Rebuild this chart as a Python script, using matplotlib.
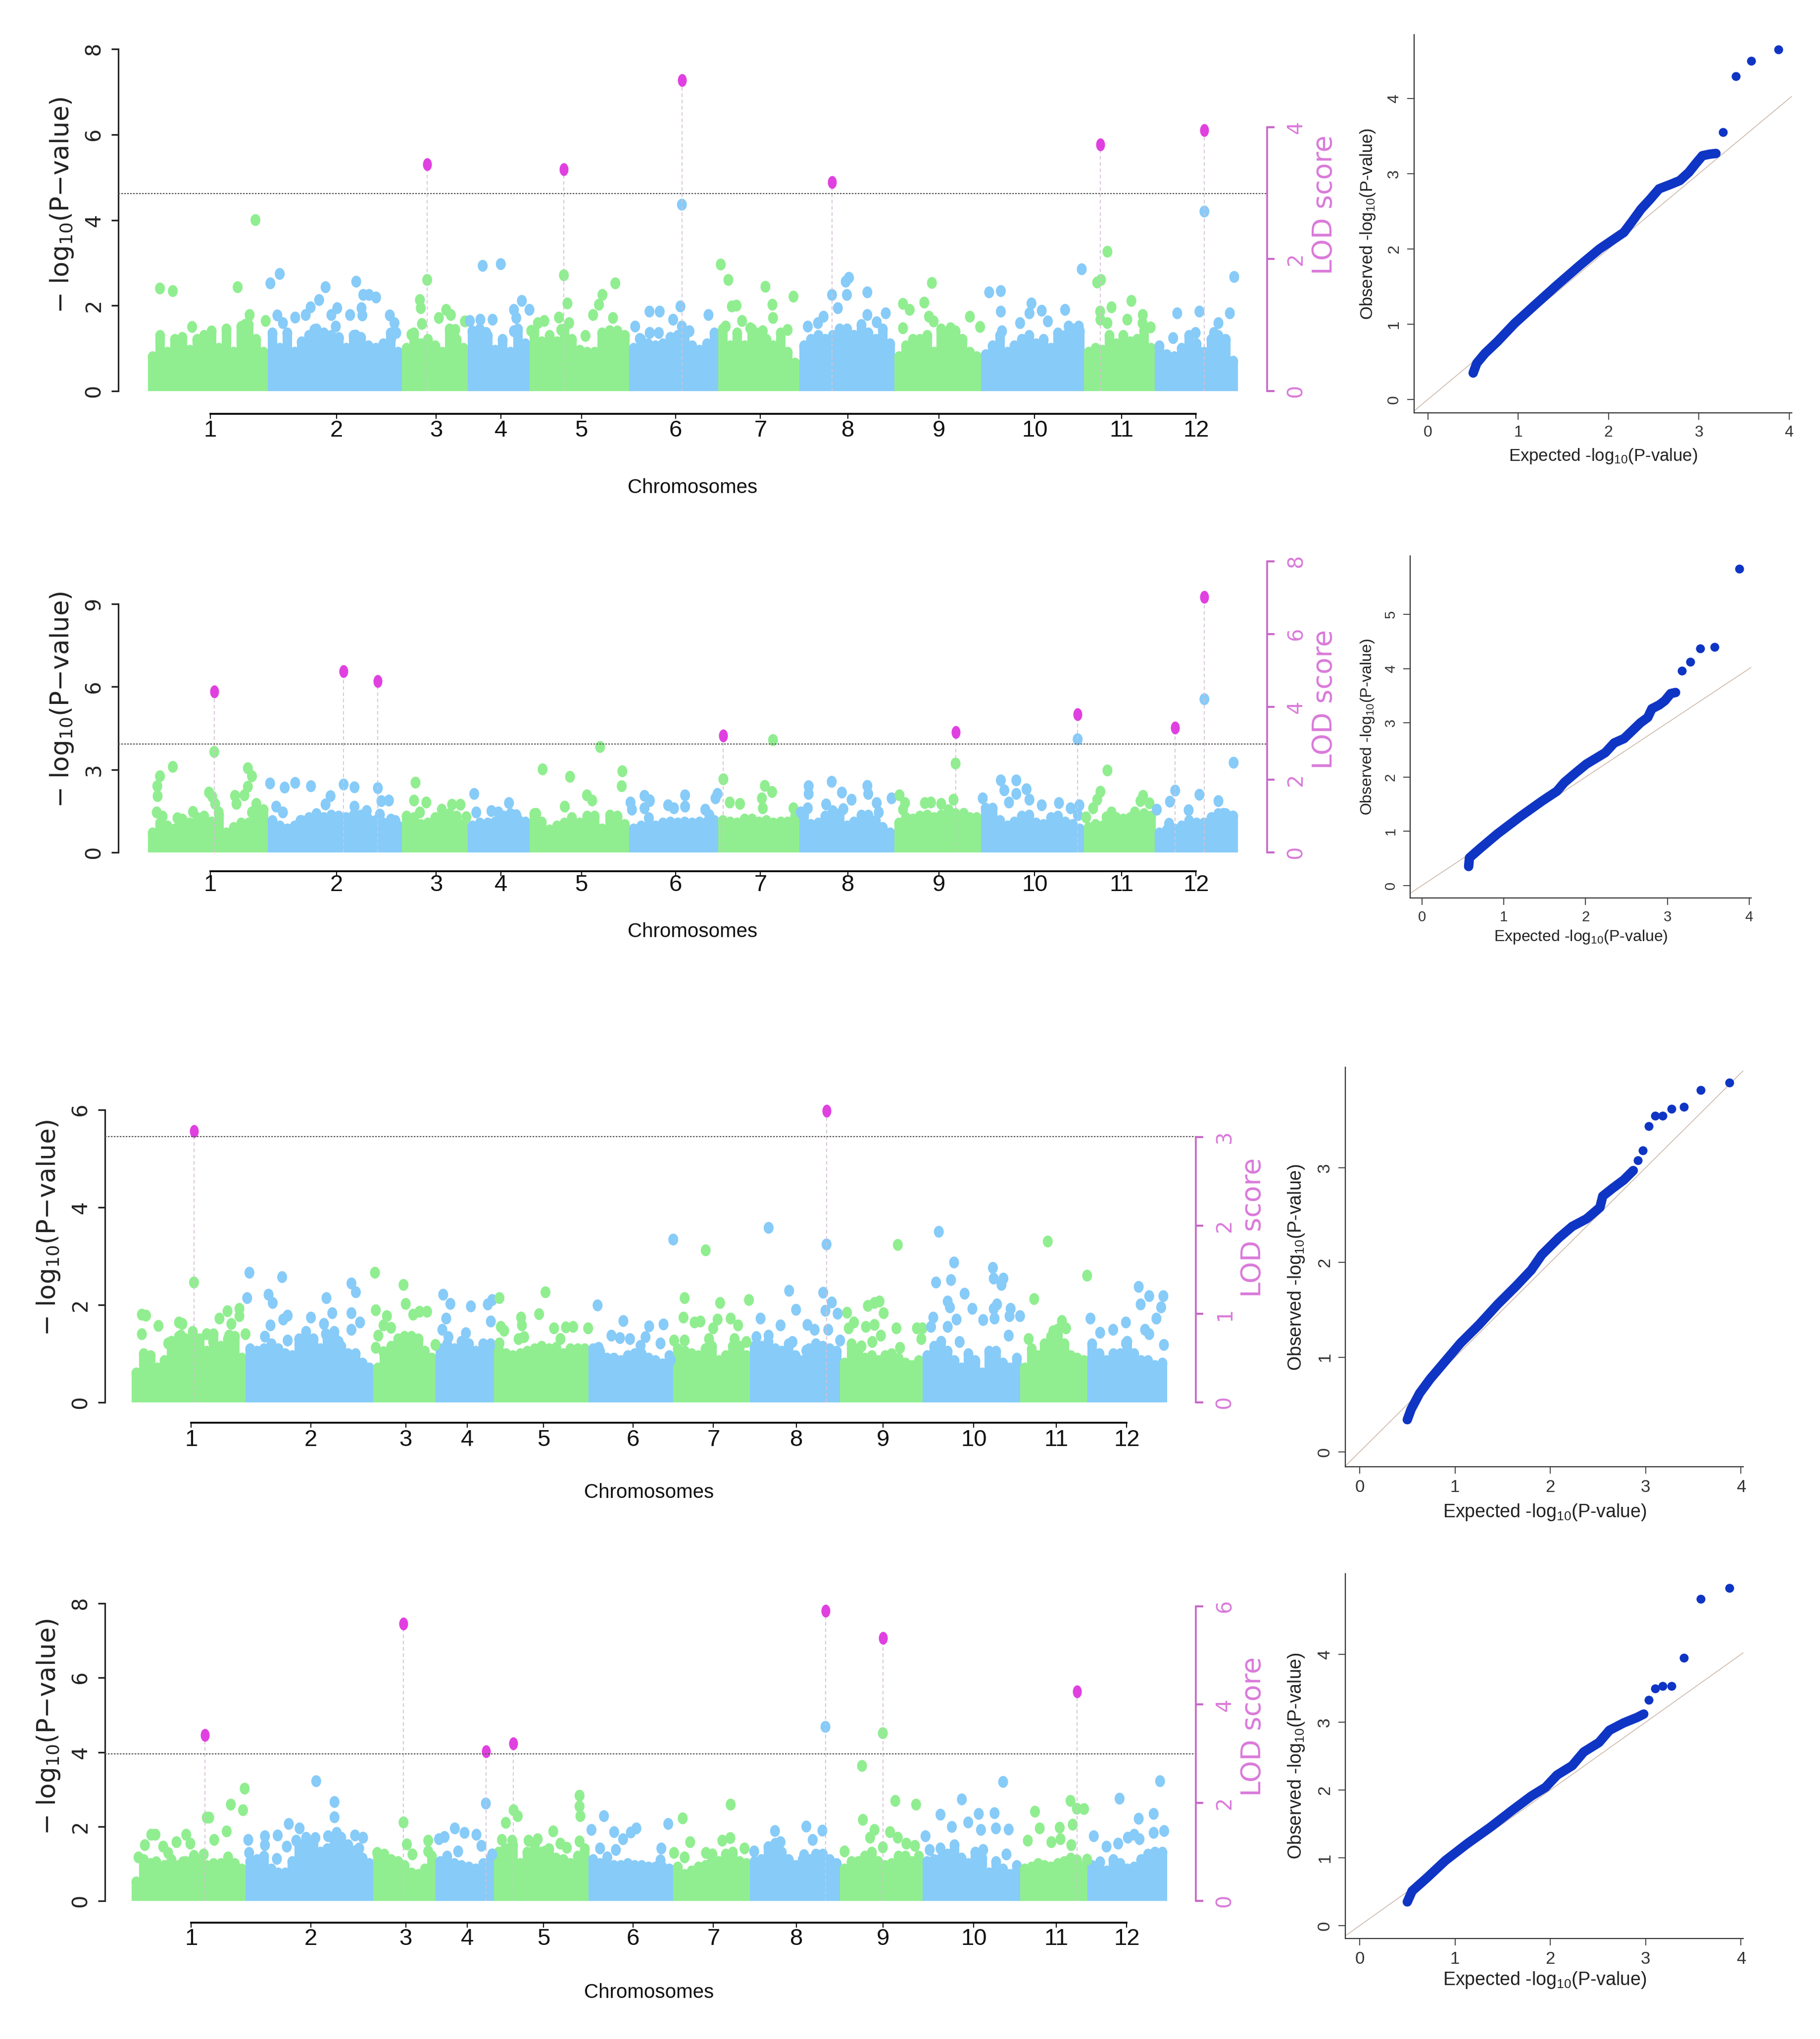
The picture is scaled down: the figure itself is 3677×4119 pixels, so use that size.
import numpy as np
import matplotlib
matplotlib.use('Agg')
import matplotlib.pyplot as plt
from matplotlib.markers import MarkerStyle
from matplotlib.transforms import Affine2D

# ------------------------------------------------------------------------------
# chromosomes (cumulative position, Mb)
# ------------------------------------------------------------------------------
chrom_labels = ['1', '2', '3', '4', '5', '6', '7', '8', '9', '10', '11', '12']
chrom_edges = [0, 41, 87, 109.5, 130.7, 164.7, 195.3, 223, 255.5, 285.2, 320.5, 344.8, 373]
chrom_ticks = [21.3, 64.5, 98.7, 120.8, 148.4, 180.7, 209.7, 239.7, 270.8, 303.6, 333.4, 358.8]

# ------------------------------------------------------------------------------
# panel 1
# ------------------------------------------------------------------------------
p1_peak_x = [95.6, 142.4, 182.8, 234.2, 326.1, 361.7]
p1_peak_y = [5.30, 5.19, 7.27, 4.88, 5.77, 6.10]
p1_x = [4.1, 8.5, 30.7, 36.8, 40.3, 34.8, 33.3, 15.1, 41.9, 45.1, 44.3, 46.2, 50.4, 54, 55.7, 58.6, 60.8, 62.8, 64.8,
        64.3, 69.2, 71.3, 73.1, 73.4, 73.7, 75.7, 78.1, 82.8, 84.4, 85, 83.2, 65.4, 71.1, 57, 93.1, 93.4, 93.8, 95.6,
        90.2, 99.6, 102.1, 103.7, 105.2, 108.5, 110.2, 113.8, 114.6, 120.8, 118, 115.8, 125.3, 126.1, 128, 130.6,
        125.3, 131.2, 133.5, 135.7, 140.7, 142.4, 143.6, 144.2, 141.5, 149.8, 152.4, 154.4, 155.6, 160, 159.2, 158.1,
        166.8, 168.4, 171.8, 171.7, 175.2, 174.9, 171.8, 179.8, 182.3, 182.8, 182.8, 185.4, 191.9, 196.1, 198.7,
        199.9, 201.5, 203.4, 197.8, 206.2, 210.5, 211.4, 213.8, 214, 219, 221, 225.9, 229.4, 231.3, 234.2, 236.2,
        238.9, 240, 239.3, 246.3, 246.3, 249.5, 252.6, 258.5, 260.8, 265.8, 268.4, 267.4, 269, 258.5, 274.8, 281.4,
        284.9, 288, 292, 292, 292.4, 298.6, 302.5, 301.8, 306, 308.1, 314, 315.2, 318.7, 319.7, 325, 326.3, 328.5,
        326, 326.1, 328.5, 329.9, 336.7, 335.3, 340.6, 343.3, 340.5, 352.4, 360, 361.7, 371.9, 370.4, 366.5, 365,
        358.7, 351]
p1_y = [2.40, 2.34, 2.43, 4.0, 1.64, 1.78, 1.55, 1.50, 2.52, 2.74, 1.77, 1.59, 1.72, 1.78, 1.96, 2.13, 2.43, 1.78, 1.94,
        1.51, 1.78, 2.56, 1.94, 1.77, 2.25, 2.25, 2.19, 1.77, 1.59, 1.36, 1.2, 1.24, 1.30, 1.43, 2.13, 1.94, 1.57, 2.60,
        1.32, 1.71, 1.90, 1.78, 1.43, 1.63, 1.64, 1.67, 2.93, 2.97, 1.67, 1.36, 1.90, 1.71, 2.11, 1.90,
        1.40, 1.41, 1.59, 1.64, 1.72, 2.71, 2.05, 1.59, 1.43, 1.29, 1.78, 2.02, 2.25, 2.52, 1.71, 1.4,
        1.51, 1.22, 1.36, 1.86, 1.86, 1.36, 1.36, 1.67, 1.98, 4.36, 1.51, 1.40, 1.78, 2.96, 2.60,
        1.98, 2.0, 1.64, 1.51, 1.47, 1.40, 2.44, 2.02, 1.71, 1.43, 2.21, 1.51, 1.59, 1.74, 2.25, 1.94,
        2.56, 2.65, 2.25, 2.31, 1.78, 1.61, 1.82, 2.04, 1.90, 2.07, 2.53, 1.74, 1.63, 1.47, 1.47, 1.74,
        1.50, 2.31, 2.34, 1.86, 1.40, 1.59, 2.05, 1.82, 1.88, 1.63, 1.90, 1.51, 1.51, 2.85, 2.54, 2.60, 3.26,
        1.86, 1.67, 1.59, 1.96, 2.11, 1.67, 1.78, 1.49, 1.59, 1.82, 1.86, 4.2, 2.67, 1.82, 1.59, 1.36,
        1.36, 1.24]
p1_tops = [[.8, 1.3, .9, 1.2, 1.25, .95, 1.2, 1.3, 1.4, 1.0, 1.45, .9, 1.5, 1.55, 1.2, .9],
           [1.35, 1.0, 1.35, .9, 1.15, 1.3, 1.45, 1.35, 1.3, 1.2, 1.0, 1.3, 1.25, 1.05, 1.0, 1.1, 1.35, .9],
           [1.0, 1.35, 1.1, 1.2, 1.05, .9, 1.45, 1.2, 1.0],
           [1.4, 1.45, 1.3, .95, 1.2, .9, 1.45, 1.1],
           [1.4, 1.15, 1.3, 1.15, 1.45, 1.2, .95, .9, .9, 1.35, 1.4, 1.4, 1.3],
           [1.0, 1.2, 1.1, 1.05, 1.1, 1.25, 1.3, 1.4, 1.05, .95, 1.1, 1.35],
           [1.45, 1.05, 1.35, 1.05, 1.45, 1.35, 1.2, 1.05, 1.35, .9, .65],
           [1.05, 1.2, 1.3, 1.2, 1.3, 1.45, 1.45, 1.3, 1.55, 1.35, 1.2, 1.45, 1.1],
           [.8, 1.05, 1.2, 1.2, 1.3, .9, 1.45, 1.3, 1.4, 1.2, .9, .8],
           [.85, 1.05, 1.3, .9, 1.05, 1.2, 1.3, 1.1, 1.2, 1.0, 1.35, 1.3, 1.45, 1.4],
           [.9, 1.0, .95, 1.3, 1.1, 1.3, 1.15, 1.2, 1.4, 1.0],
           [1.05, .85, .8, 1.0, 1.3, 1.1, .9, 1.2, 1.3, 1.2, .7]]

# ------------------------------------------------------------------------------
# panel 2
# ------------------------------------------------------------------------------
p2_peak_x = [22.7, 67, 78.7, 197, 276.5, 318.3, 351.7, 361.7]
p2_peak_y = [5.82, 6.56, 6.21, 4.23, 4.35, 5.01, 4.52, 9.25]
p2_x = [3.3, 3.2, 4.1, 8.5, 3, 5, 10.1, 15.4, 17, 20.9, 22, 23, 24.2, 22.7, 29.8, 30.3, 33, 34.2, 34.2, 35.6, 37.1,
        35.6, 41.8, 43.9, 46.8, 50.4, 55.8, 46.2, 52.2, 60.8, 62.5, 67, 70.7, 70.7, 74.9, 78.7, 79.9, 82.5, 79.4,
        83.2, 84.7, 91.6, 91.1, 95.3, 93.1, 100.6, 104.1, 107, 109, 111.7, 112.4, 117.6, 120, 121.8, 123.6, 126.1,
        132.9, 135.1, 144.5, 142.7, 150.3, 152.1, 154.8, 162.4, 162.2, 165.2, 165.7, 170, 171.8, 170, 171.5, 178.1,
        180.1, 183.9, 183.9, 171.8, 190.8, 192.2, 195, 194.3, 197, 199.2, 202.7, 211.2, 213.7, 210.2, 210.5, 214,
        221, 223.5, 226.2, 226.2, 225.9, 234.1, 237.6, 240.9, 232.2, 238.1, 246.3, 246.6, 249.5, 250.2, 254.6, 257.3,
        259.2, 258.5, 266, 268.1, 271.6, 275.8, 276.5, 279.3, 285.8, 292, 293.2, 297.3, 297.3, 294.8, 300.8, 301.8,
        306, 311.9, 315.9, 318.9, 318.3, 318.4, 326.1, 328.5, 325, 323.6, 321.2, 328.2, 329.9, 337.9, 340.7, 342.9,
        339.8, 345.4, 349.9, 351.7, 349.6, 356.3, 360, 361.7, 366.5, 371.7, 368.2, 371.4]
p2_y = [2.04, 2.40, 2.76, 3.10, 1.45, 1.30, 1.24, 1.47, 1.24, 2.17, 2.02, 1.76, 1.45, 3.64, 2.05, 1.76, 2.07, 2.38, 3.05, 2.76, 1.76,
        1.45, 2.50, 1.66, 2.35, 2.52, 2.40, 1.45, 1.14, 1.74, 2.04, 2.46, 2.36, 1.66, 1.50, 2.33, 1.86, 1.88, 1.37,
        1.19, 1.14, 2.53, 1.88, 1.81, 1.45, 1.55, 1.73, 1.73, 1.28, 2.12, 1.45, 1.5, 1.45, 1.3, 1.79, 1.35,
        1.4, 3.01, 2.74, 1.66, 2.07, 1.88, 3.82, 2.94, 2.40, 1.81, 1.55, 2.05, 1.89, 1.6, 1.24, 1.71,
        1.6, 2.07, 1.66, 1.86, 1.55, 1.35, 2.12, 1.96, 2.65, 1.81, 1.76, 2.41, 2.19, 1.96, 1.6, 4.07,
        1.6, 1.45, 2.40, 2.12, 1.6, 2.56, 2.17, 1.91, 1.74, 1.57, 2.41, 2.12, 1.79, 1.45, 1.96, 2.07,
        1.79, 1.55, 1.79, 1.81, 1.76, 1.91, 3.22, 1.4, 1.96, 2.61, 2.25, 2.61, 2.12, 1.81, 2.29, 1.91,
        1.71, 1.79, 1.6, 1.71, 4.10, 1.35, 2.2, 2.97, 1.91, 1.6, 1.27, 1.27, 1.45, 1.45, 2.05, 1.78,
        1.86, 1.55, 1.84, 2.24, 1.04, 1.53, 2.09, 5.55, 1.86, 3.25, 1.4, 1.3]
p2_tops = [[.7, 1.05, .95, .85, 1.2, 1.05, .95, 1.3, 1.1, 1.35, .7, .9, 1.05, 1.05, 1.5, 1.55],
           [1.15, .95, .85, .95, 1.15, 1.25, 1.4, 1.25, 1.35, 1.3, 1.25, 1.35, 1.35, 1.2, 1.15, 1.05, 1.0, .95],
           [1.3, 1.25, 1.0, 1.05, 1.25, 1.4, 1.4, 1.3, 1.0],
           [.95, 1.05, 1.05, 1.1, 1.05, 1.4, 1.2, 1.1],
           [1.4, 1.1, .8, .95, 1.05, 1.25, 1.05, 1.3, 1.3, .85, 1.35, 1.3, 1.0],
           [.85, .95, .95, .95, 1.05, 1.1, 1.05, 1.1, 1.05, 1.1, 1.1, 1.15],
           [1.15, 1.1, 1.05, 1.2, 1.2, 1.1, 1.15, 1.05, 1.1, 1.1, 1.3],
           [1.35, 1.0, 1.05, 1.3, 1.5, 1.4, .95, 1.1, 1.35, 1.35, 1.15, .9, .7],
           [1.05, 1.25, 1.2, 1.3, 1.35, 1.25, 1.35, 1.55, 1.4, 1.2, 1.25, 1.25],
           [1.6, 1.6, 1.15, .95, 1.1, 1.3, 1.35, 1.05, 1.0, 1.25, 1.3, 1.1, 1.0, .85],
           [.9, 1.0, .95, 1.15, 1.25, 1.2, 1.25, 1.25, 1.4, 1.3],
           [.7, .8, .85, .95, 1.15, 1.05, 1.05, 1.25, 1.4, 1.4, 1.3]]

# ------------------------------------------------------------------------------
# panel 3
# ------------------------------------------------------------------------------
p3_peak_x = [22.3, 250.5]
p3_peak_y = [5.56, 5.98]
p3_x = [22.3, 250.5, 3.5, 5, 3.5, 9.5, 16.9, 18.1, 17.6, 13, 22, 26.9, 31.5, 34.4, 38.7, 38.7, 40.9, 35.8, 35, 29.2, 33,
        41.5, 42.3, 49.2, 50.7, 54.1, 54.5, 56.1, 49.9, 47.9, 56.1, 64.5, 69.2, 70.1, 72.2, 69.9, 65.3, 79.1, 80.7,
        79.1, 82.2, 79.1, 74.5, 87.6, 97.9, 87.9, 98.7, 91.9, 90.7, 93.4, 88.8, 87.9, 90.7, 95.6, 101.4, 103.7, 106.4,
        109.4, 112.2, 114.8, 113.3, 111.9, 114.1, 120.4, 122.2, 128.3, 129.9, 129.4, 129.1, 132.5, 133, 134.2, 132.5,
        140.3, 140.6, 146.8, 149.1, 141.4, 139.4, 152.2, 154.5, 156.5, 159.1, 153, 164.5, 167.9, 168.3, 172.9, 176,
        179.6, 177.2, 183.4, 185.2, 186.5, 191.7, 190.6, 191.4, 195.5, 194.3, 195.2, 199.3, 198.9, 202.9, 205, 199.3,
        206.9, 212.1, 211.2, 209.6, 208.1, 215.9, 218.6, 217.3, 221.6, 222.5, 229.6, 226.7, 225.2, 229.6, 233.9, 237,
        239.5, 238.2, 243.6, 246.2, 243.2, 249.3, 252.4, 250.1, 254.5, 251.1, 255.4, 257.9, 265.4, 267.8, 269.6,
        271.1, 260.4, 264.7, 267.8, 258.5, 270.1, 267, 263.1, 275.7, 276.2, 283.1, 285.1, 284.7, 277, 291, 296.5, 290,
        295.4, 289, 288.2, 294.2, 295, 294.2, 297.4, 300.3, 303.1, 307, 298.5, 310.5, 310.8, 314.3, 313.6, 312, 310.8,
        311.1, 316.9, 316.5, 320.3, 316.2, 325.4, 330.3, 323.4, 335.4, 336.9, 332.3, 344.5, 345.7, 349.2, 353.9, 358.5,
        363.1, 363.8, 366.9, 372, 371.2, 369.5, 365.4, 366.9, 372.2, 358.5]
p3_y = [2.46, 3.24, 1.80, 1.78, 1.40, 1.57, 1.64, 1.61, 1.37, 1.21, 1.37, 1.40, 1.72, 1.87, 1.92, 1.77, 1.4, 1.61, 1.37, 1.24, 1.03,
        2.14, 2.66, 2.21, 2.04, 2.57, 1.70, 1.78, 1.58, 1.35, 1.27, 1.74, 1.61, 2.14, 1.83, 1.4, 1.24, 2.44, 2.26,
        1.83, 1.64, 1.49, 1.24, 2.66, 2.41, 1.89, 2.02, 1.77, 1.58, 1.53, 1.37, 1.12, 1.03, 1.15, 1.80, 1.86, 1.86,
        1.18, 2.21, 2.02, 1.72, 1.49, 1.34, 1.42, 1.97, 2.01, 2.10, 1.66, 1.15, 2.14, 1.55, 1.47, 1.21,
        1.74, 1.58, 1.81, 2.26, 1.34, 1.3, 1.52, 1.3, 1.54, 1.55, 1.12, 1.52, 1.99, 1.12, 1.37, 1.32,
        1.3, 1.67, 1.16, 1.34, 1.56, 1.6, 1.21, .78, 1.27, .87, 3.34, 2.14, 1.74, 1.64, 1.66, 1.27,
        3.12, 2.04, 1.70, 1.52, 1.3, 1.72, 1.58, 1.3, 1.24, 2.1, 3.58, 1.72, 1.34, 1.37, 1.58, 2.29,
        1.90, 1.24, 1.59, 1.49, 1.06, 2.25, 2.05, 1.88, 1.82, 1.49, 1.27, 1.84, 1.98, 2.04, 2.07,
        1.83, 1.64, 1.55, 1.59, 1.52, 1.37, 1.24, 1.15, 1.52, 3.23, 1.52, 1.52, 1.3, 1.12, 3.5, 2.87, 2.46,
        2.51, 1.74, 1.55, 2.07, 1.95, 1.55, 1.70, 2.23, 1.92, 1.69, 1.24, 2.76, 2.54, 2.54, 2.41, 2.01, 1.92,
        1.72, 1.92, 1.77, 1.77, 1.37, 2.12, 3.30, 1.3, 1.67, 1.52, 1.46, 2.6, 1.72, 1.43, 1.49, 1.64,
        2.37, 2.01, 2.18, 2.18, 1.95, 1.72, 1.49, 1.4, 1.18, 1.21]
p3_tops = [[.6, 1.0, .95, .7, .85, 1.25, 1.35, 1.3, 1.45, 1.3, 1.05, 1.4, 1.15, 1.3, 1.35, .9],
           [1.1, 1.05, 1.1, 1.2, 1.1, 1.0, .95, 1.3, 1.45, 1.3, 1.1, 1.35, 1.45, 1.15, 1.0, 1.0, .8, .7],
           [.7, 1.0, 1.15, 1.3, 1.35, 1.35, 1.3, 1.05, .9],
           [1.1, 1.2, 1.1, 1.25, 1.2, 1.05, 1.2, 1.2],
           [1.1, 1.0, .95, 1.0, 1.05, 1.1, 1.15, 1.1, .95, 1.0, 1.1, 1.1, 1.1],
           [1.1, 1.05, .9, .9, .85, .95, 1.0, 1.0, .9, .85, .75, .95],
           [1.1, 1.05, 1.0, .95, 1.1, 1.15, .85, .95, 1.15, 1.15, .95],
           [1.15, 1.15, 1.25, 1.1, 1.05, 1.2, .95, .85, 1.1, 1.2, 1.15, 1.1, 1.05],
           [.8, 1.2, 1.1, .9, .95, .85, .95, 1.0, .9, .8, .75, .85],
           [.95, 1.15, 1.25, 1.05, .85, .7, 1.0, .85, .6, 1.05, 1.05, .8, .7, .9],
           [.7, 1.1, .95, 1.2, 1.35, 1.5, 1.2, .95, .9, .85],
           [1.2, 1.0, .85, 1.0, 1.0, 1.25, 1.0, .85, .85, .75, .8]]

# ------------------------------------------------------------------------------
# panel 4
# ------------------------------------------------------------------------------
p4_peak_x = [26.3, 97.9, 127.6, 137.4, 250.1, 270.8, 340.8]
p4_peak_y = [4.46, 7.46, 4.02, 4.23, 7.80, 7.07, 5.63]
p4_x = [127.6, 250.1, 270.8, 97.9, 2.3, 4.6, 6.9, 8.4, 8.7, 11.2, 13, 16, 19.5, 21, 18.4, 22.3, 25.8, 26.9, 27.8, 29.6,
        34.1, 35.6, 40, 40.6, 34.6, 41.9, 42.2, 47.9, 47.9, 52.5, 56.5, 60.4, 55.8, 59.2, 52.2, 66.1, 66.4, 73, 73,
        70.7, 73.8, 72.2, 80.4, 83.3, 81.9, 81.4, 88.4, 99.1, 101.1, 106.8, 106.8, 110.7, 112.7, 116.4, 119.9, 117.6,
        124.2, 126, 129.9, 133.4, 134.8, 137.6, 139.1, 137.1, 134.5, 146, 143, 146.3, 151.9, 154.5, 156.8, 161.4,
        161.4, 161.4, 161.7, 149.1, 165.7, 170.2, 168.8, 171.4, 173.9, 177.1, 179.9, 181.9, 174.5, 190.9, 190.6,
        193.4, 195.5, 198.6, 201.3, 199.3, 207, 209.3, 215.9, 212.9, 215.8, 220.9, 224.4, 231.9, 233.9, 242.4, 243.2,
        249, 245.5, 248.1, 257, 263.3, 263.6, 266.2, 267.8, 270.8, 273.4, 275.3, 276.2, 279.3, 282.8, 282.4, 286.2,
        287.7, 291.6, 291.6, 299.3, 295.7, 301.6, 305.4, 306.2, 307, 311.1, 311.6, 314.2, 316.2, 315.4, 325.7, 327.4,
        323.1, 334.6, 331.6, 334.9, 338.5, 340.8, 343.4, 339.3, 338.8, 340.8, 344.5, 346.9, 349.2, 351.5, 356.2, 355.7,
        359.2, 361.5, 363.4, 363.1, 368.5, 368.5, 370.8, 372.3]
p4_y = [2.62, 4.68, 4.51, 2.11, 1.17, 1.5, 1.78, 1.78, 1.04, 1.46, 1.29, 1.58, 1.78, 1.54, 1.04, 1.21, 1.25, 2.24, 2.24, 1.64,
        1.87, 2.59, 2.44, 3.02, 1.17, 1.64, 1.29, 1.74, 1.5, 1.76, 2.07, 1.95, 1.46, 1.62, 1.13, 1.69, 3.22, 2.66, 2.25,
        1.74, 1.83, 1.37, 1.76, 1.7, 1.41, .96, 1.29, 1.52, 1.25, 1.62, 1.33, 1.66, 1.72, 1.95, 1.83, 1.33,
        1.78, 1.48, 1.25, 1.64, 2.1, 2.44, 2.28, 1.62, 1.37, 1.19, 1.62, 1.66, 1.87, 1.54, 1.43, 1.6,
        2.83, 2.54, 2.28, 1.33, 1.91, 2.28, 1.41, 1.17, 1.85, 1.66, 1.84, 1.95, 1.37, 1.41, 1.09,
        2.07, 1.29, 2.22, 1.58, 1.17, 1.29, 1.25, 2.59, 1.62, 1.69, 1.41, 1.33, 1.88, 1.58, 1.23, 2.0,
        1.89, 1.64, 1.21, 1.33, 3.63, 2.18, 1.7, 1.91, 1.44, 1.85, 2.69, 1.7, 1.54, 2.59, 1.48, 1.74,
        1.37, 1.41, 2.32, 2.73, 1.99, 2.11, 2.34, 1.91, 1.37, 2.36, 1.95, 3.2, 1.92, 1.25, 2.4, 1.95,
        1.62, 1.97, 1.58, 1.66, 2.69, 2.48, 2.47, 2.05, 1.5, 1.09, 1.11, 1.74, 1.04, 1.46, 2.75, 1.54,
        1.7, 1.78, 1.66, 2.21, 2.34, 1.83, 3.22, 1.88]
p4_tops = [[.5, 1.1, 1.0, .85, .95, 1.1, .95, 1.05, 1.1, 1.1, .95, 1.0, 1.0, .95, 1.0, .85],
           [1.05, 1.1, 1.2, .85, .75, .75, 1.05, 1.5, 1.7, 1.6, 1.3, 1.4, 1.65, 1.7, 1.5, 1.35, 1.15, 1.0],
           [1.2, 1.25, 1.1, 1.05, .95, .75, .7, .85, 1.2],
           [1.05, 1.2, 1.0, .95, .9, .85, 1.0, 1.15],
           [1.3, 1.4, 1.5, 1.0, 1.3, 1.5, 1.3, 1.4, 1.15, 1.1, 1.0, 1.2, 1.4],
           [1.1, 1.0, .9, .95, .95, 1.0, .95, .95, .9, .9, .9, .85],
           [.9, .7, .8, .9, .95, 1.1, 1.05, 1.25, 1.3, 1.05, 1.0],
           [1.05, 1.1, 1.45, 1.55, 1.3, 1.1, .95, 1.1, 1.1, 1.25, 1.25, 1.1, 1.0],
           [.85, 1.05, 1.05, 1.2, 1.3, 1.05, .95, 1.0, 1.2, 1.2, 1.05, 1.2],
           [1.05, 1.1, 1.15, 1.25, 1.5, 1.15, 1.0, 1.3, 1.15, .75, 1.05, .85, .7, .95],
           [.85, .9, 1.0, .95, .9, 1.0, 1.05, 1.15, 1.05, .9],
           [.95, .85, .8, 1.1, 1.0, .85, .9, 1.1, 1.25, 1.3, 1.3]]

# ------------------------------------------------------------------------------
# QQ plots
# ------------------------------------------------------------------------------
qq1_line_x = [.50, .54, .63, .77, .96, 1.18, 1.43, 1.68, 1.90, 2.17, 2.27, 2.36, 2.46, 2.56, 2.69, 2.79, 2.89, 2.97, 3.04, 3.12, 3.19]
qq1_line_y = [.35, .48, .61, .77, 1.01, 1.25, 1.52, 1.78, 2.00, 2.22, 2.38, 2.53, 2.66, 2.80, 2.86, 2.91, 3.02, 3.14, 3.24, 3.26, 3.27]
qq1_top_x = [3.27, 3.41, 3.58, 3.88]
qq1_top_y = [3.55, 4.30, 4.50, 4.65]

qq2_line_x = [.57, .58, .70, .92, 1.20, 1.47, 1.65, 1.74, 1.88, 2.01, 2.24, 2.35, 2.47, 2.56, 2.67, 2.76, 2.81, 2.90, 2.97, 3.04, 3.10]
qq2_line_y = [.35, .51, .67, .95, 1.27, 1.56, 1.74, 1.90, 2.08, 2.24, 2.45, 2.63, 2.71, 2.84, 3.00, 3.10, 3.26, 3.33, 3.41, 3.54, 3.56]
qq2_top_x = [3.18, 3.28, 3.40, 3.58, 3.88]
qq2_top_y = [3.96, 4.13, 4.37, 4.40, 5.84]

qq3_line_x = [.50, .54, .63, .74, .90, 1.06, 1.25, 1.45, 1.64, 1.80, 1.91, 2.09, 2.23, 2.38, 2.52, 2.55, 2.65, 2.77, 2.87]
qq3_line_y = [.34, .45, .62, .77, .96, 1.15, 1.34, 1.56, 1.75, 1.92, 2.08, 2.26, 2.38, 2.46, 2.58, 2.70, 2.78, 2.87, 2.97]
qq3_top_x = [2.92, 2.97, 3.03, 3.10, 3.18, 3.27, 3.40, 3.58, 3.88]
qq3_top_y = [3.08, 3.18, 3.44, 3.55, 3.55, 3.62, 3.64, 3.82, 3.90]

qq4_line_x = [.50, .55, .71, .90, 1.13, 1.37, 1.60, 1.80, 1.95, 2.07, 2.23, 2.35, 2.51, 2.62, 2.77, 2.91, 2.98]
qq4_line_y = [.35, .51, .71, .96, 1.21, 1.45, 1.70, 1.91, 2.04, 2.22, 2.36, 2.56, 2.70, 2.88, 2.99, 3.07, 3.12]
qq4_top_x = [3.03, 3.10, 3.18, 3.27, 3.40, 3.58, 3.88]
qq4_top_y = [3.33, 3.50, 3.53, 3.53, 3.95, 4.82, 4.98]

# ------------------------------------------------------------------------------
# colours and figure
# ------------------------------------------------------------------------------
GREEN = '#90EE90'
BLUE = '#87CBF8'
PEAK = '#E040E0'
LOD = '#C868C8'
LODTXT = '#DA7ADA'
QQ = '#0F35C4'
W, H = 3677, 4119
PT = 0.72  # one pixel in points at dpi 100

plt.rcParams['mathtext.default'] = 'regular'
fig = plt.figure(figsize=(W / 100, H / 100), dpi=100, facecolor='white')


def fx(px):
    return px / W


def fy(py):
    return 1 - py / H


def chrom_color(x):
    i = np.searchsorted(chrom_edges, x) - 1
    return GREEN if i % 2 == 0 else BLUE


def manhattan(px_x0, px_x1, px_zero, ytop_px, ymax, yticks, thresh, lod_px, lodmax, lodticks,
              axis_px, label_px, chrom_y_px, lab_y_px, xs, ys, tops, peak_x, peak_y):
    # px_x0, px_x1: pixel range of genome position 0..373
    left = px_x0 - 60 if px_x0 > 280 else px_x0 - 55
    right = px_x1 + 60
    scale = (px_x1 - px_x0) / 373
    unit = (px_zero - ytop_px) / ymax
    lod_unit = (px_zero - lod_px) / lodmax
    axes_top = min(ytop_px, lod_px)
    ax = fig.add_axes([fx(left), fy(px_zero), fx(right - left), (px_zero - axes_top) / H])
    ax.patch.set_visible(False)
    ax.set_xlim((left - px_x0) / scale, (right - px_x0) / scale)
    ax.set_ylim(0, (px_zero - axes_top) / unit)

    # solid mass of low values, bin by bin along each chromosome
    marker = MarkerStyle('o', transform=Affine2D().scale(20 / 24, 1))
    for i, top in enumerate(tops):
        c = GREEN if i % 2 == 0 else BLUE
        x = np.linspace(chrom_edges[i] + 1.5, chrom_edges[i + 1] - 1.5, len(top))
        ax.vlines(x, 0, top, colors=c, linewidth=19 * PT, zorder=2)
        ax.scatter(x, top, s=(24 * PT) ** 2, c=c, marker=marker, linewidths=0, zorder=2, clip_on=False)

    ax.scatter(xs, ys, s=(24 * PT) ** 2, c=[chrom_color(v) for v in xs], marker=marker, linewidths=0,
               zorder=3, clip_on=False)

    # significant markers
    ax.vlines(peak_x, 0, peak_y, colors='#d4c2d4', linewidth=1.3, linestyles=(0, (4, 3)), zorder=4)
    ax.scatter(peak_x, peak_y, s=(26 * PT) ** 2, c=PEAK, linewidths=0, zorder=5, clip_on=False,
               marker=MarkerStyle('o', transform=Affine2D().scale(18 / 26, 1)))
    ax.hlines(thresh, (left - px_x0) / scale, (right - px_x0) / scale, colors='#555555', linewidth=1.6,
              linestyles=(0, (1.5, 1.2)), zorder=6)

    for s in ['top', 'right']:
        ax.spines[s].set_visible(False)
    ax.spines['left'].set_bounds(0, ymax)
    ax.spines['left'].set_linewidth(2.2)
    ax.spines['left'].set_color('#222222')
    ax.set_yticks(yticks)
    ax.tick_params(axis='y', length=14 * PT, width=2.4, color='#222222', pad=10, labelsize=30)
    for t in ax.get_yticklabels():
        t.set(rotation=90, va='center', family='DejaVu Sans', color='#222222')

    ax.spines['bottom'].set_position(('outward', (axis_px - px_zero) * PT))
    ax.spines['bottom'].set_bounds(chrom_ticks[0], chrom_ticks[-1])
    ax.spines['bottom'].set_linewidth(2.6)
    ax.set_xticks(chrom_ticks)
    ax.set_xticklabels(chrom_labels, family='Liberation Sans', fontsize=34, color='#111111')
    ax.tick_params(axis='x', length=10 * PT, width=1.6, pad=(label_px - 16 - axis_px - 10) * PT)

    # LOD axis
    ax2 = ax.twinx()
    ax2.patch.set_visible(False)
    ax2.set_ylim(0, (px_zero - axes_top) / lod_unit)
    for s in ['top', 'left', 'bottom']:
        ax2.spines[s].set_visible(False)
    ax2.spines['right'].set_bounds(0, lodmax)
    ax2.spines['right'].set_color(LOD)
    ax2.spines['right'].set_linewidth(2.6)
    ax2.set_yticks(lodticks)
    ax2.tick_params(axis='y', length=15 * PT, width=3, color=LOD, pad=16, labelsize=30, labelcolor=LODTXT)
    for t in ax2.get_yticklabels():
        t.set(rotation=90, va='center', family='DejaVu Sans')

    fig.text(fx(right + 116), fy(lab_y_px), 'LOD score', rotation=90, color=LODTXT, fontsize=40,
             family='DejaVu Sans', ha='center', va='center')
    fig.text(fx(left - 114), fy(lab_y_px), '$-$ log$_{10}$(P$-$value)', rotation=90,
             color='#222222', fontsize=37, family='DejaVu Sans', ha='center', va='center')
    fig.text(fx((px_x0 + px_x1) / 2), fy(chrom_y_px), 'Chromosomes', family='Liberation Sans', fontsize=29,
             color='#111111', ha='center', va='center')


def qqplot(left, right, top, bottom, xlim, ylim, yticks, fs, line_x, line_y, top_x, top_y, xlab_px, ylab_px):
    ax = fig.add_axes([fx(left), fy(bottom), fx(right - left), (bottom - top) / H])
    ax.set_xlim(*xlim)
    ax.set_ylim(*ylim)
    # reference diagonal
    hi = min(xlim[1], ylim[1])
    ax.plot([max(xlim[0], ylim[0]), hi], [max(xlim[0], ylim[0]), hi], color='#c8b4a6', lw=1.1, zorder=1)
    ax.plot(line_x, line_y, color=QQ, lw=19 * PT, solid_capstyle='round', solid_joinstyle='round', zorder=2)
    ax.scatter(top_x, top_y, s=(18 * PT) ** 2, c=QQ, linewidths=0, zorder=3, clip_on=False)
    for s in ['top', 'right']:
        ax.spines[s].set_visible(False)
    for s in ['left', 'bottom']:
        ax.spines[s].set_linewidth(1.6)
        ax.spines[s].set_color('#333333')
    ax.set_xticks([0, 1, 2, 3, 4])
    ax.set_yticks(yticks)
    ax.tick_params(length=14 * PT, width=1.4, color='#444444', labelcolor='#333333', pad=8, labelsize=fs)
    for t in ax.get_yticklabels():
        t.set(rotation=90, va='center')
    for t in ax.get_xticklabels() + ax.get_yticklabels():
        t.set_family('Liberation Sans')
    fig.text(fx(xlab_px[0]), fy(xlab_px[1]), 'Expected -log$_{10}$(P-value)', family='Liberation Sans',
             fontsize=fs + 2, color='#222222', ha='center', va='center')
    fig.text(fx(ylab_px[0]), fy(ylab_px[1]), 'Observed -log$_{10}$(P-value)', family='Liberation Sans',
             fontsize=fs + 2, color='#222222', rotation=90, ha='center', va='center')


# ------------------------------------------------------------------------------
# draw
# ------------------------------------------------------------------------------
manhattan(299, 2500, 790, 99, 8, [0, 2, 4, 6, 8], 4.62, 256.5, 4, [0, 2, 4],
          836, 864, 985, 414, p1_x, p1_y, p1_tops, p1_peak_x, p1_peak_y)
manhattan(299, 2500, 1722, 1220, 9, [0, 3, 6, 9], 3.92, 1134, 8, [0, 2, 4, 6, 8],
          1760, 1782, 1882, 1413, p2_x, p2_y, p2_tops, p2_peak_x, p2_peak_y)
manhattan(267, 2356, 2833, 2242, 6, [0, 2, 4, 6], 5.45, 2297, 3, [0, 1, 2, 3],
          2874, 2903, 3015, 2480, p3_x, p3_y, p3_tops, p3_peak_x, p3_peak_y)
manhattan(267, 2356, 3840, 3239, 8, [0, 2, 4, 6, 8], 3.95, 3245, 6, [0, 2, 4, 6],
          3884, 3911, 4025, 3488, p4_x, p4_y, p4_tops, p4_peak_x, p4_peak_y)

qqplot(2857, 3620, 70, 834, (-.154, 4.03), (-.18, 4.85), [0, 1, 2, 3, 4], 23,
       qq1_line_x, qq1_line_y, qq1_top_x, qq1_top_y, (3239, 921), (2763, 452))
qqplot(2849, 3538, 1123, 1813.5, (-.145, 4.025), (-.226, 6.08), [0, 1, 2, 3, 4, 5], 21,
       qq2_line_x, qq2_line_y, qq2_top_x, qq2_top_y, (3194, 1893), (2763, 1469))
qqplot(2718, 3522, 2156, 2963, (-.15, 4.024), (-.157, 4.06), [0, 1, 2, 3], 25,
       qq3_line_x, qq3_line_y, qq3_top_x, qq3_top_y, (3121, 3055), (2619, 2560))
qqplot(2718, 3522, 3179, 3916, (-.15, 4.024), (-.19, 5.19), [0, 1, 2, 3, 4], 25,
       qq4_line_x, qq4_line_y, qq4_top_x, qq4_top_y, (3121, 4000), (2619, 3547))

fig.savefig('out.png', dpi=100)
